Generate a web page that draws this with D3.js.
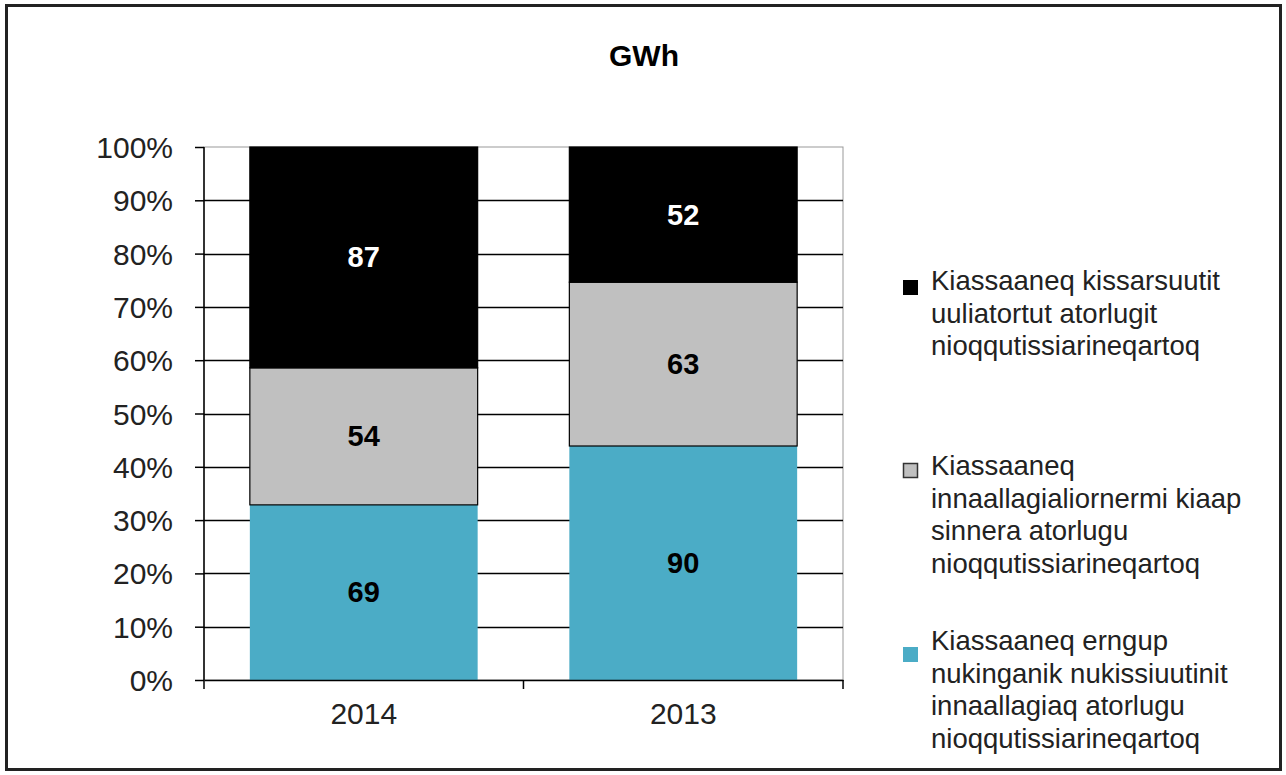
<!DOCTYPE html>
<html>
<head>
<meta charset="utf-8">
<script src="https://cdn.jsdelivr.net/npm/d3@7"></script>
<style>
  body { margin: 0; background: #fff; }
  text { font-family: "Liberation Sans", Arial, sans-serif; }
</style>
</head>
<body>
<div id="chart"></div>
<script>
const years = ["2014", "2013"];
const seriesNames = ["blue", "gray", "black"];
const blueValues = [69, 90];
const grayValues = [54, 63];
const blackValues = [87, 52];
const yTicks = [0, 0.1, 0.2, 0.3, 0.4, 0.5, 0.6, 0.7, 0.8, 0.9, 1];
const legendLabels = [
    ["Kiassaaneq kissarsuutit", "uuliatortut atorlugit", "nioqqutissiarineqartoq"],
    ["Kiassaaneq", "innaallagialiornermi kiaap", "sinnera atorlugu", "nioqqutissiarineqartoq"],
    ["Kiassaaneq erngup", "nukinganik nukissiuutinit", "innaallagiaq atorlugu", "nioqqutissiarineqartoq"]
];

const W = 1286, H = 775;
const margin = { top: 147, left: 204, right: 443, bottom: 95 };
const width = W - margin.left - margin.right;
const height = H - margin.top - margin.bottom;

const colors = { blue: "#4bacc6", gray: "#c0c0c0", black: "#000000" };
const labelColors = { blue: "#000", gray: "#000", black: "#fff" };

const svg = d3.select("#chart").append("svg")
    .attr("width", W)
    .attr("height", H);

// outer frame
svg.append("rect")
    .attr("x", 6.5).attr("y", 5.5)
    .attr("width", 1274).attr("height", 764)
    .attr("fill", "#fff")
    .attr("stroke", "#222")
    .attr("stroke-width", 3);

svg.append("text")
    .attr("x", 644).attr("y", 66)
    .attr("text-anchor", "middle")
    .attr("font-size", 30)
    .attr("font-weight", "bold")
    .text("GWh");

const g = svg.append("g")
    .attr("transform", `translate(${margin.left},${margin.top})`);

const x = d3.scaleBand().domain(years).range([0, width]).paddingInner(0.287).paddingOuter(0.1435);
const y = d3.scaleLinear().domain([0, 1]).range([height, 0]);

// stacked percentages
const rows = years.map((yr, i) => {
    const total = blueValues[i] + grayValues[i] + blackValues[i];
    return { year: yr, blue: blueValues[i] / total, gray: grayValues[i] / total, black: blackValues[i] / total,
             raw: { blue: blueValues[i], gray: grayValues[i], black: blackValues[i] } };
});
const stacked = d3.stack().keys(seriesNames)(rows);

// plot border
g.append("rect")
    .attr("x", 0).attr("y", 0)
    .attr("width", width).attr("height", height)
    .attr("fill", "none")
    .attr("stroke", "#999")
    .attr("stroke-width", 1);

// gridlines
g.append("g")
    .selectAll("line")
    .data(yTicks.slice(1, -1))
    .join("line")
    .attr("x1", 0).attr("x2", width)
    .attr("y1", d => Math.round(y(d)) + 0.5).attr("y2", d => Math.round(y(d)) + 0.5)
    .attr("stroke", "#000")
    .attr("stroke-width", 1.5);

// bars + value labels
stacked.forEach(layer => {
    const key = layer.key;
    g.append("g")
        .selectAll("rect")
        .data(layer)
        .join("rect")
        .attr("x", d => x(d.data.year))
        .attr("y", d => y(d[1]))
        .attr("width", x.bandwidth())
        .attr("height", d => y(d[0]) - y(d[1]))
        .attr("fill", colors[key])
        .attr("stroke", key === "blue" ? "none" : "#000")
        .attr("stroke-width", 1.2);

    g.append("g")
        .selectAll("text")
        .data(layer)
        .join("text")
        .attr("x", d => x(d.data.year) + x.bandwidth() / 2)
        .attr("y", d => (y(d[0]) + y(d[1])) / 2 + 10)
        .attr("text-anchor", "middle")
        .attr("font-size", 29)
        .attr("font-weight", "bold")
        .attr("fill", labelColors[key])
        .text(d => d.data.raw[key]);
});

// y axis
const yAxis = g.append("g")
    .call(d3.axisLeft(y).tickValues(yTicks).tickFormat(d3.format(".0%")).tickSize(9).tickPadding(22));
yAxis.select(".domain").attr("stroke", "#000").attr("stroke-width", 1.5).attr("d", `M0,${height}V0`);
yAxis.selectAll(".tick line").attr("stroke", "#000").attr("stroke-width", 1.5);
yAxis.selectAll("text")
    .attr("font-size", 30)
    .attr("fill", "#222")
    .attr("dy", "0.35em")
    .style("font-family", "Liberation Sans, Arial, sans-serif");

// x axis
const xAxis = g.append("g")
    .attr("transform", `translate(0,${height})`)
    .call(d3.axisBottom(x).tickSize(0).tickPadding(23));
xAxis.select(".domain").attr("stroke", "#000").attr("stroke-width", 1.5);
xAxis.selectAll("text")
    .attr("font-size", 30)
    .attr("fill", "#222")
    .style("font-family", "Liberation Sans, Arial, sans-serif");
// category separator ticks
g.append("g")
    .selectAll("line")
    .data([0, width / 2, width])
    .join("line")
    .attr("x1", d => d).attr("x2", d => d)
    .attr("y1", height).attr("y2", height + 9)
    .attr("stroke", "#000")
    .attr("stroke-width", 1.5);

// legend
const legendKeys = ["black", "gray", "blue"];
const swatchTop = [280, 463, 647];
const firstBaseline = [290, 475, 650];
legendKeys.forEach((key, i) => {
    svg.append("rect")
        .attr("x", key === "gray" ? 903.5 : 903).attr("y", key === "gray" ? swatchTop[i] + 0.5 : swatchTop[i])
        .attr("width", key === "gray" ? 14 : 15).attr("height", key === "gray" ? 14 : 15)
        .attr("fill", colors[key])
        .attr("stroke", key === "gray" ? "#333" : "none")
        .attr("stroke-width", 1.5);
    legendLabels[i].forEach((line, j) => {
        svg.append("text")
            .attr("x", 931)
            .attr("y", firstBaseline[i] + j * 32.6)
            .attr("font-size", 27.5)
            .attr("fill", "#222")
            .text(line);
    });
});
</script>
</body>
</html>
